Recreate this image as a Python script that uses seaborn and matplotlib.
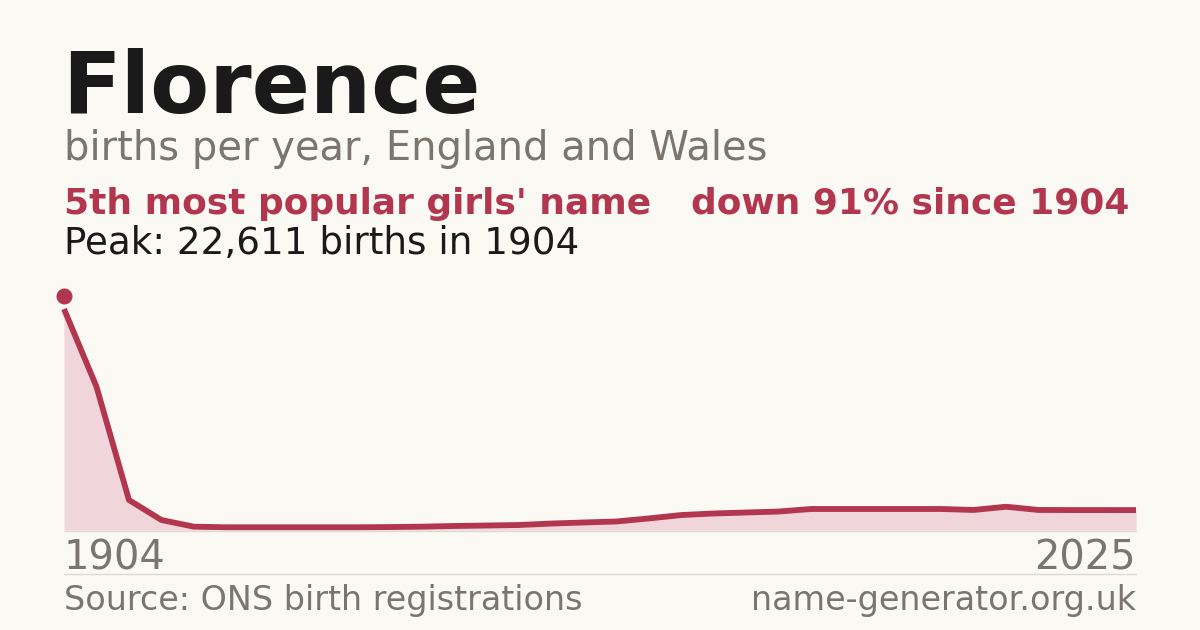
import matplotlib
matplotlib.use("Agg")
import matplotlib.pyplot as plt
import matplotlib.transforms as mtransforms
import seaborn as sns
import pandas as pd
import numpy as np

# ---- data ----
first_year = 1904
last_year = 2025
births = [22611, 14660, 3070, 1020, 340, 280, 280, 280, 280, 280,
          300, 340, 410, 460, 510, 660, 770, 870, 1180, 1530,
          1690, 1790, 1890, 2150, 2150, 2150, 2150, 2150, 2050, 2380,
          2050, 2040, 2040, 2035]
name = "Florence"
subtitle = "births per year, England and Wales"
rank_text = "5th most popular girls' name"
change_text = "down 91% since 1904"
peak_text = "Peak: 22,611 births in 1904"
source_text = "Source: ONS birth registrations"
site_text = "name-generator.org.uk"

BG = "#faf9f4"
RED = "#b3364f"
FILL = "#f0d5da"
GREY = "#7a756d"
DARK = "#1a1a1a"

df = pd.DataFrame({"pos": np.arange(len(births)), "births": births})

sns.set_theme(style="white")
plt.rcParams["font.family"] = ["DejaVu Sans"]

W, H = 1200, 630
fig = plt.figure(figsize=(12, 6.3), dpi=100, facecolor=BG)

def fx(px):
    return px / W

def fy(py):
    return 1 - py / H

ax = fig.add_axes([fx(64), fy(530), fx(1136) - fx(64), fy(309) - fy(530)])
ax.set_facecolor(BG)
ax.patch.set_alpha(0)
ax.fill_between(df["pos"], df["births"], 0, color=FILL, linewidth=0, zorder=1)
sns.lineplot(data=df, x="pos", y="births", ax=ax, color=RED, linewidth=4.2,
             solid_capstyle="butt", zorder=3, clip_on=False)
offset = mtransforms.offset_copy(ax.transData, fig=fig, x=0, y=13, units="dots")
ax.plot([df["pos"].iloc[0]], [df["births"].iloc[0]], marker="o", markersize=10.5,
        color=RED, transform=offset, clip_on=False, zorder=4)
ax.set_xlim(0, len(births) - 1)
ax.set_ylim(0, max(births))
ax.axis("off")

# baseline and separator
fig.add_artist(plt.Line2D([fx(64), fx(1136)], [fy(530.5), fy(530.5)], color="#dedad2", linewidth=1))
fig.add_artist(plt.Line2D([fx(64), fx(1136)], [fy(574), fy(574)], color="#dedad2", linewidth=1))

# texts
fig.text(fx(62), fy(113), name, fontsize=61.8, fontweight="bold", color=DARK, va="baseline")
fig.text(fx(64), fy(160), subtitle, fontsize=28.8, color=GREY, va="baseline")
fig.text(fx(64), fy(214), rank_text, fontsize=25.9, fontweight="bold", color=RED, va="baseline")
fig.text(fx(691), fy(214), change_text, fontsize=25.9, fontweight="bold", color=RED, va="baseline")
fig.text(fx(64), fy(254), peak_text, fontsize=26.8, color=DARK, va="baseline")
fig.text(fx(64), fy(570), str(first_year), fontsize=28.8, color=GREY, va="baseline")
fig.text(fx(1136), fy(570), str(last_year), fontsize=28.8, color=GREY, va="baseline", ha="right")
fig.text(fx(64), fy(610), source_text, fontsize=24, color=GREY, va="baseline")
fig.text(fx(1136), fy(610), site_text, fontsize=24, color=GREY, va="baseline", ha="right")

fig.savefig("out.png", dpi=100, facecolor=BG)
